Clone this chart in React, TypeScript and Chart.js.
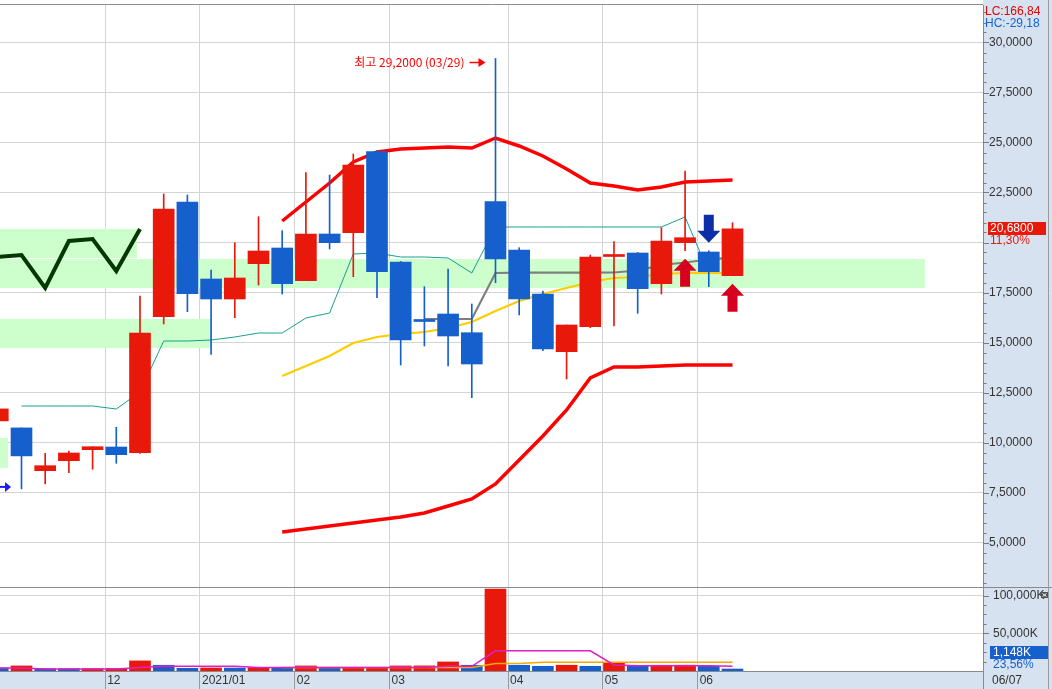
import React, { useEffect, useRef } from 'react';
import { Chart, registerables } from 'chart.js';

Chart.register(...registerables);

// ---------------- data (weekly bars) ----------------
const WEEKS = ['11/02','11/09','11/16','11/23','11/30','12/07','12/14','12/21','12/28','01/04','01/11','01/18','01/25','02/01','02/08','02/15','02/22','03/01','03/08','03/15','03/22','03/29','04/05','04/12','04/19','04/26','05/03','05/10','05/17','05/24','05/31','06/07'];
const OPEN = [11.08, 10.73, 8.59, 9.09, 9.64, 9.775, 9.49, 16.29, 22.025, 18.175, 17.175, 18.94, 19.725, 18.09, 20.425, 20.49, 24.54, 19.025, 16.1, 16.425, 15.49, 22.04, 19.625, 17.425, 14.54, 15.79, 19.3, 19.475, 17.94, 19.99, 19.525, 18.34];
const HIGH = [11.68, 10.73, 9.46, 9.575, 9.79, 10.76, 17.325, 22.425, 22.375, 18.625, 19.99, 21.29, 20.59, 23.49, 23.375, 24.425, 24.6, 19.05, 17.79, 18.675, 16.925, 29.2, 19.74, 17.575, 15.875, 19.375, 20.04, 19.5, 20.74, 23.575, 19.59, 20.99];
const LOW = [11.08, 7.68, 7.93, 8.49, 8.66, 8.96, 9.46, 15.925, 16.54, 14.41, 16.24, 17.875, 17.425, 18.09, 19.675, 18.29, 17.24, 13.875, 14.825, 13.825, 12.24, 17.99, 16.375, 14.59, 13.175, 15.74, 15.825, 16.46, 17.425, 19.59, 17.79, 18.34];
const CLOSE = [11.68, 9.33, 8.84, 9.475, 9.79, 9.39, 15.475, 21.675, 17.44, 17.175, 18.225, 19.575, 17.94, 20.425, 19.99, 23.875, 18.54, 15.125, 16.05, 15.325, 13.925, 19.175, 17.175, 14.675, 15.875, 19.275, 19.35, 17.69, 20.075, 20.24, 18.54, 20.68];

const N = null;
const BB_UPPER = [N,N,N,N,N,N,N,N,N,N,N,N, 21.075, 22.025, 22.975, 24.025, 24.525, 24.675, 24.725, 24.775, 24.725, 25.225, 24.825, 24.325, 23.675, 22.975, 22.825, 22.625, 22.775, 23.025, 23.075, 23.125];
const BB_LOWER = [N,N,N,N,N,N,N,N,N,N,N,N, 5.525, 5.675, 5.825, 5.975, 6.125, 6.275, 6.475, 6.825, 7.175, 7.925, 9.125, 10.325, 11.625, 13.225, 13.775, 13.775, 13.825, 13.875, 13.875, 13.875];
const MA20 = [N,N,N,N,N,N,N,N,N,N,N,N, 13.325, 13.825, 14.325, 14.975, 15.275, 15.425, 15.525, 15.725, 16.025, 16.575, 17.075, 17.425, 17.725, 18.025, 18.225, 18.275, 18.425, 18.475, 18.475, 18.475];
const BASE_LINE = [N,N,N,N,N,N,N,N,N,N,N,N,N,N,N,N,N,N, 16.175, 16.175, 16.175, 18.475, 18.49, 18.49, 18.49, 18.49, 18.5, 18.6, 18.875, 19.0, 19.15, 19.24];
const CONV_LINE = [N, 11.825, 11.825, 11.825, 11.825, 11.675, 12.525, 15.075, 15.075, 15.125, 15.275, 15.475, 15.475, 16.225, 16.475, 19.425, 19.475, 19.275, 19.275, 19.225, 18.475, 20.775, 20.775, 20.775, 20.775, 20.775, 20.775, 20.775, 20.775, 21.275, 18.475, 18.475];
const LAG_LINE = [19.275, 19.375, 17.725, 20.075, 20.175, 18.575, 20.675, N,N,N,N,N,N,N,N,N,N,N,N,N,N,N,N,N,N,N,N,N,N,N,N,N];

const VOLUME = [4000, 6700, 3100, 3000, 3100, 3200, 13400, 7600, 3600, 4000, 3900, 4500, 4000, 6700, 4400, 4500, 4600, 6700, 6800, 12000, 7600, 108500, 7600, 6250, 7600, 6250, 10700, 6250, 7600, 7700, 6250, 1148];
const VOLUME_UP = [0,1,0,0,1,1,1,0,0,1,0,1,0,1,0,1,1,1,1,1,0,1,0,0,1,0,1,0,1,1,0,0];
const VOL_MA5 = [4000, 4000, 2700, 2700, 2700, 2700, 4500, 6250, 6250, 6250, 6250, 4500, 4500, 4500, 4500, 4500, 4500, 4500, 4500, 6250, 6250, 26800, 26800, 26800, 26800, 26800, 8000, 7100, 7100, 7100, 7100, 6250];
const VOL_MA20 = [N,N,N,N,N,N,N,N,N,N,N,N, 4500, 4500, 4500, 4500, 4500, 4500, 4500, 4500, 4500, 9800, 9800, 11600, 11600, 11600, 11600, 11600, 11600, 11600, 11600, 11600];

// price-volume profile zones (price range, length in bar slots)
const PROFILE_HIGH = [20.675, 19.175, 16.175, 10.225];
const PROFILE_LOW = [19.225, 17.725, 14.725, 8.725];
const PROFILE_END = [5.87, 39.12, 9.03, 0.43];

const BUY_SIGNALS = [29, 31];
const SELL_SIGNALS = [30];
const LEFT_LOW_MARK = 7.78;

const PRICE_TICKS = [5, 7.5, 10, 12.5, 15, 17.5, 20, 22.5, 25, 27.5, 30];
const VOLUME_TICKS = [50000, 100000];
const MONTH_TICK_POS = [4.53, 8.53, 12.53, 16.53, 21.53, 25.53, 29.53];
const MONTH_TICK_LABELS = ['12', '2021/01', '02', '03', '04', '05', '06'];

const LC_TEXT = 'LC:166,84';
const HC_TEXT = 'HC:-29,18';
const PRICE_CHANGE_TEXT = '11,30%';
const VOLUME_RATIO_TEXT = '23,56%';
const LAST_DATE = '06/07';

// ---------------- styles ----------------
const X_MIN = 0.093;
const X_MAX = 41.57;
const AXIS_W = 69;
const PANEL_BG = '#d7e2f0';
const GRID = '#d4d4d4';
const AXIS_LINE = '#8a8a8a';
const UP = '#e8190a';
const DOWN = '#1560cc';
const FONT_FAMILY = '"Liberation Sans", Arial, sans-serif';
const FONT12 = '12px ' + FONT_FAMILY;

const fmtPrice = (v: number) => v.toFixed(4).replace('.', ',');
const fmtVol = (v: number) => Math.round(v).toLocaleString('en-US') + 'K';
const pts = (arr: (number | null)[]) => arr.map((v, i) => ({ x: i, y: v }));

function drawArrow(ctx: CanvasRenderingContext2D, x: number, tip: number, dir: 'up' | 'down', color: string) {
  const s = dir === 'up' ? 1 : -1;
  ctx.fillStyle = color;
  ctx.beginPath();
  ctx.moveTo(x, tip);
  ctx.lineTo(x + 11.5, tip + s * 12);
  ctx.lineTo(x + 5, tip + s * 12);
  ctx.lineTo(x + 5, tip + s * 28);
  ctx.lineTo(x - 5, tip + s * 28);
  ctx.lineTo(x - 5, tip + s * 12);
  ctx.lineTo(x - 11.5, tip + s * 12);
  ctx.closePath();
  ctx.fill();
}

const pricePlugin = {
  id: 'pricePanel',
  beforeDraw(chart: any) {
    const { ctx, chartArea: a, width, height } = chart;
    ctx.save();
    ctx.fillStyle = '#ffffff';
    ctx.fillRect(0, 0, width, height);
    ctx.fillStyle = PANEL_BG;
    ctx.fillRect(a.right, 0, width - a.right, height);
    ctx.restore();
  },
  afterDatasetsDraw(chart: any) {
    const { ctx, chartArea: a } = chart;
    const xs = chart.scales.x;
    const ys = chart.scales.y;
    ctx.save();
    ctx.beginPath();
    ctx.rect(a.left, a.top, a.right - a.left, a.bottom - a.top);
    ctx.clip();
    SELL_SIGNALS.forEach((i) => drawArrow(ctx, xs.getPixelForValue(i), ys.getPixelForValue(HIGH[i]) - 8, 'down', '#0c2fa8'));
    BUY_SIGNALS.forEach((i) => drawArrow(ctx, xs.getPixelForValue(i), ys.getPixelForValue(LOW[i]) + 8, 'up', '#d7001f'));

    // highest price annotation
    const hi = Math.max(...HIGH);
    const hIdx = HIGH.indexOf(hi);
    const hx = xs.getPixelForValue(hIdx);
    const hy = ys.getPixelForValue(hi) + 4;
    ctx.fillStyle = '#ff0000';
    ctx.strokeStyle = '#ff0000';
    ctx.font = '12px "Noto Sans CJK KR", sans-serif';
    ctx.textAlign = 'right';
    ctx.textBaseline = 'middle';
    ctx.fillText(`최고 ${fmtPrice(hi)} (${WEEKS[hIdx]})`, hx - 31, hy);
    ctx.lineWidth = 1.5;
    ctx.beginPath();
    ctx.moveTo(hx - 26, hy);
    ctx.lineTo(hx - 15, hy);
    ctx.stroke();
    ctx.beginPath();
    ctx.moveTo(hx - 17, hy - 4.5);
    ctx.lineTo(hx - 10, hy);
    ctx.lineTo(hx - 17, hy + 4.5);
    ctx.closePath();
    ctx.fill();

    // off-screen low marker at left edge
    const ly = ys.getPixelForValue(LEFT_LOW_MARK);
    ctx.fillStyle = '#1a1aff';
    ctx.fillRect(a.left, ly - 1, 6, 2);
    ctx.beginPath();
    ctx.moveTo(a.left + 5, ly - 5);
    ctx.lineTo(a.left + 11, ly);
    ctx.lineTo(a.left + 5, ly + 5);
    ctx.closePath();
    ctx.fill();
    ctx.restore();
  },
  afterDraw(chart: any) {
    const { ctx, chartArea: a, width, height } = chart;
    const ys = chart.scales.y;
    ctx.save();
    ctx.strokeStyle = '#7a7a7a';
    ctx.lineWidth = 1;
    for (let v = Math.ceil(ys.min * 2) / 2; v <= ys.max; v += 0.5) {
      const y = Math.round(ys.getPixelForValue(v)) + 0.5;
      const major = PRICE_TICKS.includes(v);
      ctx.beginPath();
      ctx.moveTo(a.right, y);
      ctx.lineTo(a.right + (major ? 6 : 3.5), y);
      ctx.stroke();
    }
    ctx.strokeStyle = '#8c8c8c';
    ctx.beginPath();
    ctx.moveTo(0, a.top - 0.5);
    ctx.lineTo(a.right, a.top - 0.5);
    ctx.stroke();
    ctx.strokeStyle = '#9a9a9a';
    ctx.beginPath();
    ctx.moveTo(width - 3.5, 0);
    ctx.lineTo(width - 3.5, height);
    ctx.stroke();

    ctx.font = FONT12;
    ctx.textAlign = 'left';
    ctx.textBaseline = 'middle';
    ctx.fillStyle = '#e60000';
    ctx.fillText(LC_TEXT, a.right + 2, 12);
    ctx.fillStyle = '#1464dc';
    ctx.fillText(HC_TEXT, a.right + 2, 24);

    const last = CLOSE[CLOSE.length - 1];
    const py = Math.round(ys.getPixelForValue(last));
    ctx.fillStyle = UP;
    ctx.fillRect(a.right + 5, py - 7, 58, 13);
    ctx.fillStyle = '#ffffff';
    ctx.fillText(fmtPrice(last), a.right + 7, py - 0.5);
    ctx.fillStyle = UP;
    ctx.fillText(PRICE_CHANGE_TEXT, a.right + 7, py + 12);
    ctx.restore();
  },
};

const volumePlugin = {
  id: 'volumePanel',
  beforeDraw(chart: any) {
    const { ctx, chartArea: a, width, height } = chart;
    ctx.save();
    ctx.fillStyle = '#ffffff';
    ctx.fillRect(0, 0, width, height);
    ctx.fillStyle = PANEL_BG;
    ctx.fillRect(a.right, 0, width - a.right, height);
    ctx.fillRect(0, a.bottom, width, height - a.bottom);
    ctx.restore();
  },
  afterDraw(chart: any) {
    const { ctx, chartArea: a, width, height } = chart;
    const xs = chart.scales.x;
    const ys = chart.scales.y;
    ctx.save();
    ctx.lineWidth = 1;
    ctx.strokeStyle = '#8a8a8a';
    ctx.beginPath();
    ctx.moveTo(0, 0.5);
    ctx.lineTo(width, 0.5);
    ctx.stroke();
    ctx.strokeStyle = '#7a7a7a';
    for (let v = 12500; v <= ys.max; v += 12500) {
      const y = Math.round(ys.getPixelForValue(v)) + 0.5;
      const major = VOLUME_TICKS.includes(v);
      ctx.beginPath();
      ctx.moveTo(a.right, y);
      ctx.lineTo(a.right + (major ? 6 : 3.5), y);
      ctx.stroke();
    }
    ctx.strokeStyle = AXIS_LINE;
    ctx.beginPath();
    ctx.moveTo(a.right + 0.5, a.bottom);
    ctx.lineTo(a.right + 0.5, height);
    ctx.stroke();
    ctx.strokeStyle = '#9a9a9a';
    ctx.beginPath();
    ctx.moveTo(width - 3.5, 0);
    ctx.lineTo(width - 3.5, height);
    ctx.stroke();

    ctx.font = FONT12;
    ctx.textAlign = 'left';
    ctx.textBaseline = 'middle';
    ctx.fillStyle = '#333333';
    MONTH_TICK_POS.forEach((p, k) => {
      ctx.fillText(MONTH_TICK_LABELS[k], xs.getPixelForValue(p) + 2, a.bottom + 9.5);
    });
    ctx.fillText(LAST_DATE, a.right + 9, a.bottom + 9.5);

    const lastVol = VOLUME[VOLUME.length - 1];
    ctx.fillStyle = DOWN;
    ctx.fillRect(a.right + 7, a.bottom - 25, 58, 13);
    ctx.fillStyle = '#ffffff';
    ctx.fillText(fmtVol(lastVol), a.right + 10, a.bottom - 18.5);
    ctx.fillStyle = DOWN;
    ctx.fillText(VOLUME_RATIO_TEXT, a.right + 10, a.bottom - 6.5);

    // small close icon
    ctx.fillStyle = '#505050';
    ctx.fillRect(width - 11, 5, 7, 6);
    ctx.strokeStyle = '#ffffff';
    ctx.beginPath();
    ctx.moveTo(width - 9.5, 6.5);
    ctx.lineTo(width - 5.5, 9.5);
    ctx.moveTo(width - 5.5, 6.5);
    ctx.lineTo(width - 9.5, 9.5);
    ctx.stroke();
    ctx.restore();
  },
};

const noPad = (s: any) => {
  s.width = AXIS_W;
  s.paddingTop = 0;
  s.paddingBottom = 0;
};

function lineDs(data: (number | null)[], color: string, width: number, order: number) {
  return {
    type: 'line',
    data: pts(data),
    borderColor: color,
    borderWidth: width,
    pointRadius: 0,
    tension: 0,
    fill: false,
    spanGaps: false,
    order,
  };
}

function priceConfig(): any {
  const candleColor = OPEN.map((o, i) => (CLOSE[i] >= o ? UP : DOWN));
  const bands = PROFILE_HIGH.map((hi, k) => ({
    type: 'line',
    data: [{ x: X_MIN - 1, y: hi }, { x: PROFILE_END[k], y: hi }],
    fill: { value: PROFILE_LOW[k] },
    backgroundColor: '#ccffcc',
    borderColor: 'rgba(0,0,0,0)',
    borderWidth: 0,
    pointRadius: 0,
    order: 100,
  }));
  return {
    type: 'bar',
    data: {
      datasets: [
        ...bands,
        lineDs(LAG_LINE, '#033803', 4, 90),
        lineDs(CONV_LINE, '#17a08c', 1, 80),
        lineDs(BASE_LINE, '#7f7f7f', 2.2, 70),
        lineDs(MA20, '#ffcc00', 2.2, 60),
        lineDs(BB_UPPER, '#ff0000', 3.5, 50),
        lineDs(BB_LOWER, '#ff0000', 3.5, 50),
        {
          type: 'bar',
          data: LOW.map((l, i) => ({ x: i, y: [l, HIGH[i]] })),
          backgroundColor: candleColor,
          barThickness: 1,
          grouped: false,
          order: 20,
        },
        {
          type: 'bar',
          data: OPEN.map((o, i) => ({ x: i, y: [o, CLOSE[i]] })),
          backgroundColor: candleColor,
          barThickness: 21,
          minBarLength: 2,
          grouped: false,
          order: 10,
        },
      ],
    },
    options: {
      responsive: false,
      maintainAspectRatio: false,
      animation: false,
      events: [],
      layout: { padding: { top: 5, left: 0, right: 0, bottom: 0 } },
      plugins: { legend: { display: false }, tooltip: { enabled: false } },
      scales: {
        x: {
          type: 'linear',
          min: X_MIN,
          max: X_MAX,
          offset: false,
          afterBuildTicks: (s: any) => { s.ticks = MONTH_TICK_POS.map((v) => ({ value: v })); },
          afterFit: (s: any) => { s.height = 0; },
          grid: { color: GRID, drawTicks: false, offset: false },
          border: { display: false },
          ticks: { display: false },
        },
        y: {
          type: 'linear',
          position: 'right',
          min: 2.775,
          max: 31.875,
          afterBuildTicks: (s: any) => { s.ticks = PRICE_TICKS.map((v) => ({ value: v })); },
          afterFit: noPad,
          grid: { color: GRID, drawTicks: false },
          border: { display: true, color: AXIS_LINE },
          ticks: {
            padding: 6,
            color: '#333333',
            font: { family: FONT_FAMILY, size: 12 },
            callback: (v: number) => (Math.abs(v - CLOSE[CLOSE.length - 1]) < 1 ? '' : fmtPrice(v)),
          },
        },
      },
    },
    plugins: [pricePlugin],
  };
}

function volumeConfig(): any {
  return {
    type: 'bar',
    data: {
      datasets: [
        lineDs(VOL_MA5, '#e01ec8', 1.5, 5),
        lineDs(VOL_MA20, '#f5a800', 1.5, 6),
        {
          type: 'bar',
          data: VOLUME.map((v, i) => ({ x: i, y: v })),
          backgroundColor: VOLUME_UP.map((u) => (u ? UP : DOWN)),
          barThickness: 21,
          minBarLength: 2,
          grouped: false,
          order: 10,
        },
      ],
    },
    options: {
      responsive: false,
      maintainAspectRatio: false,
      animation: false,
      events: [],
      layout: { padding: 0 },
      plugins: { legend: { display: false }, tooltip: { enabled: false } },
      scales: {
        x: {
          type: 'linear',
          min: X_MIN,
          max: X_MAX,
          offset: false,
          afterBuildTicks: (s: any) => { s.ticks = MONTH_TICK_POS.map((v) => ({ value: v })); },
          afterFit: (s: any) => { s.height = 18; },
          grid: { color: GRID, drawTicks: true, tickLength: 18, tickColor: '#9a9a9a', offset: false },
          border: { display: true, color: AXIS_LINE },
          ticks: { display: false },
        },
        y: {
          type: 'linear',
          position: 'right',
          min: 0,
          max: 111260,
          afterBuildTicks: (s: any) => { s.ticks = VOLUME_TICKS.map((v) => ({ value: v })); },
          afterFit: noPad,
          grid: { color: GRID, drawTicks: false },
          border: { display: true, color: AXIS_LINE },
          ticks: {
            padding: 10,
            color: '#333333',
            font: { family: FONT_FAMILY, size: 12 },
            callback: (v: number) => fmtVol(v),
          },
        },
      },
    },
    plugins: [volumePlugin],
  };
}

export default function App() {
  const priceRef = useRef<HTMLCanvasElement>(null);
  const volRef = useRef<HTMLCanvasElement>(null);
  useEffect(() => {
    const c1 = new Chart(priceRef.current as HTMLCanvasElement, priceConfig());
    const c2 = new Chart(volRef.current as HTMLCanvasElement, volumeConfig());
    return () => {
      c1.destroy();
      c2.destroy();
    };
  }, []);
  return (
    <div style={{ position: 'fixed', left: 0, top: 0, width: 1052, height: 689, background: '#ffffff' }}>
      <canvas ref={priceRef} width={1052} height={587} style={{ position: 'absolute', left: 0, top: 0, width: 1052, height: 587 }} />
      <canvas ref={volRef} width={1052} height={102} style={{ position: 'absolute', left: 0, top: 587, width: 1052, height: 102 }} />
    </div>
  );
}
